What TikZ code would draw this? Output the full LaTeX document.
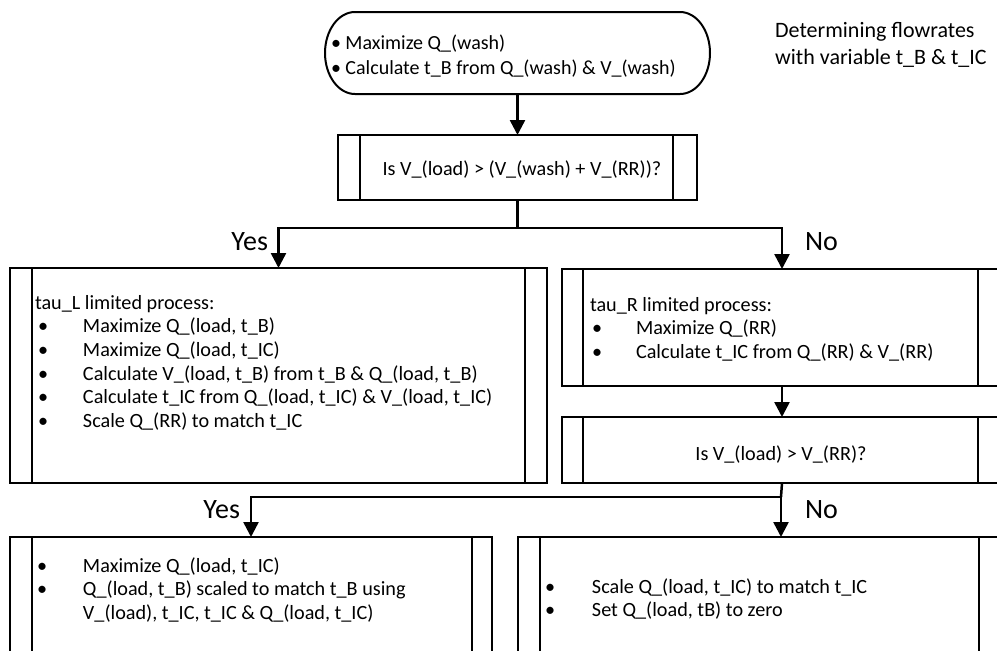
\documentclass[tikz,border=0pt]{standalone}
\usepackage{fontspec}
\setmainfont{Carlito}
\usetikzlibrary{arrows.meta}
\begin{document}
\begin{tikzpicture}[x=1pt,y=-1pt,
  box/.style={draw, line width=2pt, inner sep=0pt, outer sep=0pt, anchor=north west},
  edge/.style={line width=2pt},
  conn/.style={line width=2.5pt},
  arr/.style={conn, -{Triangle[width=15pt,length=15pt]}},
  txt/.style={inner sep=0pt, outer sep=0pt, font=\fontsize{20.2}{23.7}\selectfont},
  big/.style={inner sep=0pt, outer sep=0pt, font=\fontsize{28}{34}\selectfont}]
\useasboundingbox (0,0) rectangle (997,651);
\clip (0,0) rectangle (997,651);

% terminator
\node[inner sep=0pt, outer sep=0pt, minimum width=385pt, minimum height=82pt, anchor=north west] (term) at (325,12) {};
\draw[edge] ([xshift=30pt]term.north west) -- ([xshift=-30pt]term.north east)
  arc[start angle=90, end angle=-90, x radius=30pt, y radius=41pt]
  -- ([xshift=30pt]term.south west)
  arc[start angle=270, end angle=90, x radius=30pt, y radius=41pt] -- cycle;
\node[txt, anchor=base west, font=\fontsize{20}{25}\selectfont] (termt) at (331,49)
  {\begin{tabular}[t]{@{}l@{}}\textbullet\ Maximize Q\_(wash)\\ \textbullet\ Calculate t\_B from Q\_(wash) \& V\_(wash)\end{tabular}};

% title
\node[inner sep=0pt, anchor=base west, font=\fontsize{22}{27}\selectfont] (title) at (775,37)
  {\begin{tabular}[t]{@{}l@{}}Determining flowrates\\ with variable t\_B \& t\_IC\end{tabular}};

% decision 1
\node[box, minimum width=359pt, minimum height=65pt] (dec1) at (338,135) {};
\draw[edge] ([xshift=22pt]dec1.north west) -- ([xshift=22pt]dec1.south west);
\draw[edge] ([xshift=-24pt]dec1.north east) -- ([xshift=-24pt]dec1.south east);
\node[txt, anchor=base] (dec1t) at (522,175) {Is V\_(load) > (V\_(wash) + V\_(RR))?};

% tau_L box
\node[box, minimum width=537pt, minimum height=215pt] (tauL) at (10,268) {};
\draw[edge] ([xshift=22pt]tauL.north west) -- ([xshift=22pt]tauL.south west);
\draw[edge] ([xshift=-22pt]tauL.north east) -- ([xshift=-22pt]tauL.south east);
\node[txt, anchor=base west] (tauLt) at (35,309)
  {\begin{tabular}[t]{@{}p{48pt}@{}l@{}}
   \multicolumn{2}{@{}l@{}}{tau\_L limited process:}\\
   \hspace{3pt}\textbullet & Maximize Q\_(load, t\_B)\\
   \hspace{3pt}\textbullet & Maximize Q\_(load, t\_IC)\\
   \hspace{3pt}\textbullet & Calculate V\_(load, t\_B) from t\_B \& Q\_(load, t\_B)\\
   \hspace{3pt}\textbullet & Calculate t\_IC from Q\_(load, t\_IC) \& V\_(load, t\_IC)\\
   \hspace{3pt}\textbullet & Scale Q\_(RR) to match t\_IC
  \end{tabular}};

% tau_R box
\node[box, minimum width=440pt, minimum height=117pt] (tauR) at (562,269) {};
\draw[edge] ([xshift=21pt]tauR.north west) -- ([xshift=21pt]tauR.south west);
\draw[edge] (978,269) -- (978,386);
\node[txt, anchor=base west] (tauRt) at (590,311)
  {\begin{tabular}[t]{@{}p{46pt}@{}l@{}}
   \multicolumn{2}{@{}l@{}}{tau\_R limited process:}\\
   \hspace{2pt}\textbullet & Maximize Q\_(RR)\\
   \hspace{2pt}\textbullet & Calculate t\_IC from Q\_(RR) \& V\_(RR)
  \end{tabular}};

% decision 2
\node[box, minimum width=440pt, minimum height=66pt] (dec2) at (562,417) {};
\draw[edge] ([xshift=21pt]dec2.north west) -- ([xshift=21pt]dec2.south west);
\draw[edge] (978,417) -- (978,483);
\node[txt, anchor=base] (dec2t) at (781,460) {Is V\_(load) > V\_(RR)?};

% lower left box
\node[box, minimum width=482pt, minimum height=140pt] (lowL) at (10,537) {};
\draw[edge] ([xshift=22pt]lowL.north west) -- ([xshift=22pt]lowL.south west);
\draw[edge] ([xshift=-20pt]lowL.north east) -- ([xshift=-20pt]lowL.south east);
\node[txt, anchor=base west] (lowLt) at (37,572)
  {\begin{tabular}[t]{@{}p{46pt}@{}l@{}}
   \textbullet & Maximize Q\_(load, t\_IC)\\
   \textbullet & Q\_(load, t\_B) scaled to match t\_B using\\
   & V\_(load), t\_IC, t\_IC \& Q\_(load, t\_IC)
  \end{tabular}};

% lower right box
\node[box, minimum width=484pt, minimum height=140pt] (lowR) at (518,537) {};
\draw[edge] ([xshift=22pt]lowR.north west) -- ([xshift=22pt]lowR.south west);
\draw[edge] (979,537) -- (979,677);
\node[txt, anchor=base west] (lowRt) at (545,593)
  {\begin{tabular}[t]{@{}p{47pt}@{}l@{}}
   \textbullet & Scale Q\_(load, t\_IC) to match t\_IC\\
   \textbullet & Set Q\_(load, tB) to zero
  \end{tabular}};

% connectors
\coordinate (j1) at (dec1.south |- 0,228);
\coordinate (j2) at (781,497);
\draw[arr] (term.south) -- (dec1.north);
\draw[conn] (dec1.south) -- (j1);
\draw[arr] (j1) -| (tauL.north);
\draw[arr] (j1) -| (tauR.north);
\draw[arr] (tauR.south) -- (dec2.north);
\draw[conn] (dec2.south) -- (j2);
\draw[arr] (j2) -| (lowL.north);
\draw[arr] (j2) -- (j2 |- lowR.north);

% labels
\node[big, anchor=base east] (yes1) at (268,250) {Yes};
\node[big, anchor=base west] (no1) at (805,250) {No};
\node[big, anchor=base east] (yes2) at (240,518) {Yes};
\node[big, anchor=base west] (no2) at (805,518) {No};
\end{tikzpicture}
\end{document}
